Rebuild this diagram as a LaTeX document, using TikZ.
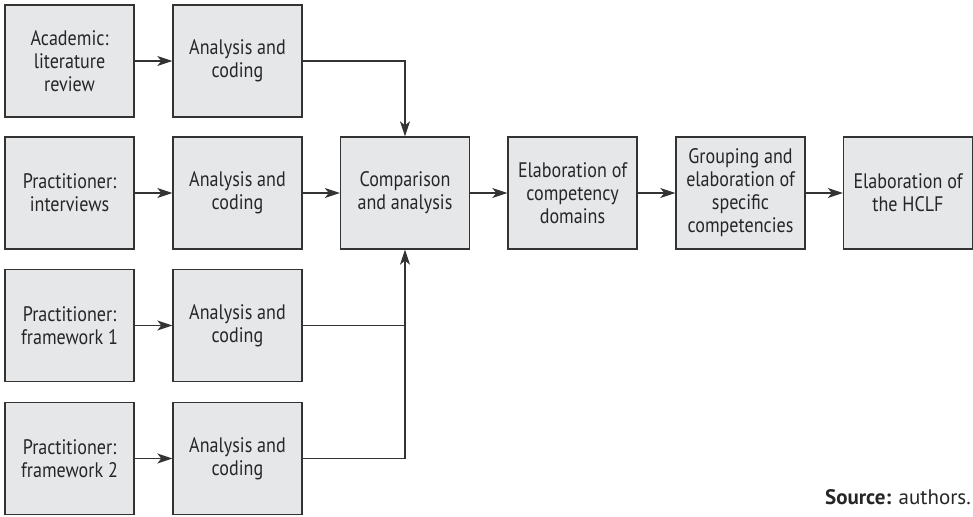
\documentclass[tikz,border=0pt]{standalone}
\usepackage{fontspec}
\setmainfont{PT Sans}
\newfontfamily\condfont{PT Sans}[FakeStretch=0.86]
\usetikzlibrary{arrows.meta}
\definecolor{boxfill}{HTML}{E6E7E9}
\definecolor{boxline}{HTML}{333333}
\begin{document}
\begin{tikzpicture}[x=1pt,y=-1pt,
  box/.style={draw=boxline,fill=boxfill,line width=1.4pt,minimum width=129pt,minimum height=112pt,
    inner sep=2pt,align=center,font=\condfont\fontsize{21}{23}\selectfont,text=black!85},
  conn/.style={draw=boxline,line width=1.3pt},
  arr/.style={conn,-{Stealth[length=15pt,width=10pt,inset=4pt]}}]
\useasboundingbox (0,0) rectangle (973,516);
\node[box] (s1) at (69.5,61) {Academic:\\literature\\review};
\node[box] (a1) at (237.5,61) {Analysis and\\coding};
\node[box] (s2) at (69.5,193) {Practitioner:\\interviews};
\node[box] (a2) at (237.5,193) {Analysis and\\coding};
\node[box] (s3) at (69.5,325.5) {Practitioner:\\framework 1};
\node[box] (a3) at (237.5,325.5) {Analysis and\\coding};
\node[box] (s4) at (69.5,458.5) {Practitioner:\\framework 2};
\node[box] (a4) at (237.5,458.5) {Analysis and\\coding};
\node[box] (cmp) at (405,193) {Comparison\\and analysis};
\node[box] (dom) at (572.5,193) {Elaboration of\\competency\\domains};
\node[box] (grp) at (740.5,193) {Grouping and\\elaboration of\\specific\\competencies};
\node[box] (hclf) at (908,193) {Elaboration of\\the HCLF};
\node[anchor=base east,inner sep=0pt,font=\fontsize{21}{24}\selectfont,text=black!85] (src) at (971,504) {\textbf{Source:} authors.};
\draw[arr] (s1) -- (a1);
\draw[arr] (s2) -- (a2);
\draw[arr] (s3) -- (a3);
\draw[arr] (s4) -- (a4);
\draw[arr] (a1.east) -| (cmp.north);
\draw[arr] (a2) -- (cmp);
\draw[conn] (a3.east) -- (a3.east -| cmp.south);
\draw[arr] (a4.east) -| (cmp.south);
\draw[arr] (cmp) -- (dom);
\draw[arr] (dom) -- (grp);
\draw[arr] (grp) -- (hclf);
\end{tikzpicture}
\end{document}
